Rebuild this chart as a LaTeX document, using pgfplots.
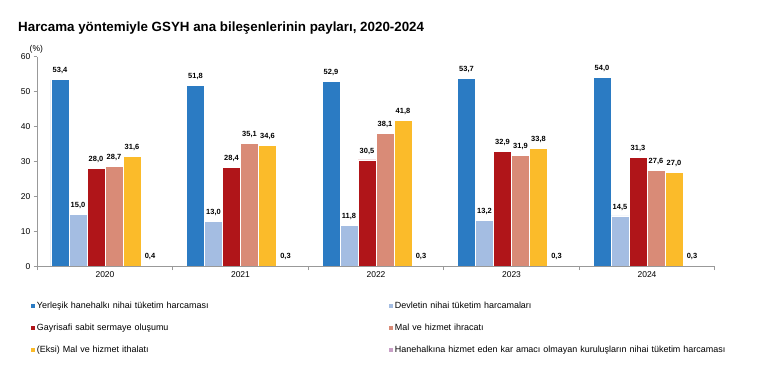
\documentclass[border=0pt]{standalone}
\usepackage{pgfplots}
\pgfplotsset{compat=1.18}
\usepackage{fontspec}
\setmainfont{Liberation Sans}
\definecolor{cA}{HTML}{2B7BC3}
\definecolor{cB}{HTML}{A4BDE2}
\definecolor{cC}{HTML}{B01519}
\definecolor{cD}{HTML}{D98B77}
\definecolor{cE}{HTML}{FBBB2A}
\definecolor{cF}{HTML}{C89FC6}
\begin{document}
\begin{tikzpicture}
\path[use as bounding box, fill=white] (0bp,0bp) rectangle (759bp,-377bp);
\node[anchor=base west, inner sep=0pt, font=\bfseries\fontsize{13.4}{15}\selectfont] at (18bp,-31bp) {Harcama yöntemiyle GSYH ana bileşenlerinin payları, 2020-2024};
\node[anchor=base west, inner sep=0pt, font=\fontsize{8.5}{9}\selectfont] at (29.5bp,-51bp) {(\%)};
\begin{axis}[
  at={(37.25bp,-266.7bp)}, anchor=south west,
  scale only axis, width=677.5bp, height=210bp,
  axis on top,
  ybar=0pt, bar width=18bp,
  ymin=0, ymax=60, ytick={0,10,...,60},
  xmin=-0.5, xmax=4.5,
  xtick={-0.5,0.5,1.5,2.5,3.5,4.5}, xticklabels={},
  extra x ticks={0,1,2,3,4}, extra x tick labels={2020,2021,2022,2023,2024},
  extra x tick style={major tick length=0pt},
  axis x line*=bottom, axis y line*=left,
  axis line style={draw=gray!80, line width=0.6pt},
  x axis line style={-}, y axis line style={-},
  tick style={draw=gray!80, line width=0.6pt},
  tick align=outside, major tick length=3.5bp,
  /pgf/number format/assume math mode=true,
  tick label style={font=\fontsize{8.5}{9}\selectfont},
  xticklabel style={yshift=-1bp},
  nodes near coords={\pgfmathprintnumber[fixed,fixed zerofill,precision=1,use comma]{\pgfplotspointmeta}},
  every node near coord/.append style={font=\bfseries\fontsize{7.5}{8}\selectfont, text=black, yshift=2bp},
  legend columns=2,
  legend cell align=left,
  legend style={at={(-0.014,-0.16)}, anchor=north west, draw=none, fill=none,
    font=\fontsize{9}{10}\selectfont, row sep=13.5bp, column sep=2bp,
    nodes={inner sep=0pt, text height=6.5bp, text depth=2bp, text width=350bp}},
  legend image code/.code={\fill[#1, draw=none] (0bp,-1bp) rectangle (4bp,3bp);},
]
\addplot[fill=cA, draw=white, line width=0.8pt] coordinates {(0,53.4) (1,51.8) (2,52.9) (3,53.7) (4,54.0)};
\addlegendentry{Yerleşik hanehalkı nihai tüketim harcaması}
\addplot[fill=cB, draw=white, line width=0.8pt] coordinates {(0,15.0) (1,13.0) (2,11.8) (3,13.2) (4,14.5)};
\addlegendentry{Devletin nihai tüketim harcamaları}
\addplot[fill=cC, draw=white, line width=0.8pt] coordinates {(0,28.0) (1,28.4) (2,30.5) (3,32.9) (4,31.3)};
\addlegendentry{Gayrisafi sabit sermaye oluşumu}
\addplot[fill=cD, draw=white, line width=0.8pt] coordinates {(0,28.7) (1,35.1) (2,38.1) (3,31.9) (4,27.6)};
\addlegendentry{Mal ve hizmet ihracatı}
\addplot[fill=cE, draw=white, line width=0.8pt] coordinates {(0,31.6) (1,34.6) (2,41.8) (3,33.8) (4,27.0)};
\addlegendentry{(Eksi) Mal ve hizmet ithalatı}
\addplot[fill=cF, draw=white, line width=0.8pt] coordinates {(0,0.4) (1,0.3) (2,0.3) (3,0.3) (4,0.3)};
\addlegendentry{Hanehalkına hizmet eden kar amacı olmayan kuruluşların nihai tüketim harcaması}
\end{axis}
\end{tikzpicture}
\end{document}
